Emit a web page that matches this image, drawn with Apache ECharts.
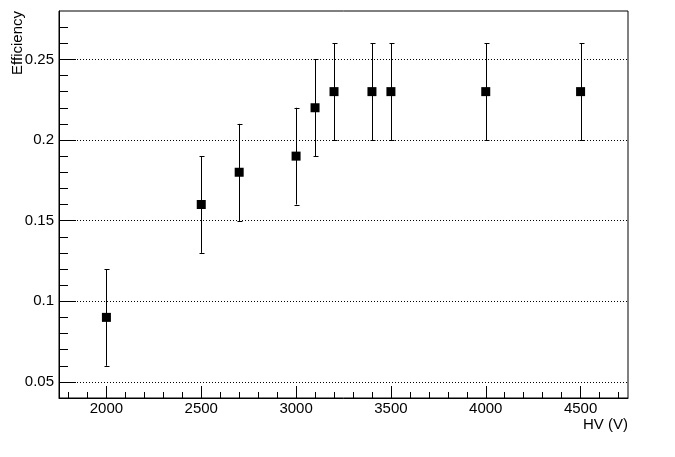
<!DOCTYPE html>
<html>
<head>
<meta charset="utf-8">
<script src="https://cdn.jsdelivr.net/npm/echarts@6/dist/echarts.min.js"></script>
<style>
  html, body { margin: 0; padding: 0; background: #fff; }
  #main { width: 675px; height: 457px; }
</style>
</head>
<body>
<div id="main"></div>
<script>
// HV scan data
var hv = [2000, 2500, 2700, 3000, 3100, 3200, 3400, 3500, 4000, 4500];
var efficiency = [0.09, 0.16, 0.18, 0.19, 0.22, 0.23, 0.23, 0.23, 0.23, 0.23];
var effError = [0.03, 0.03, 0.03, 0.03, 0.03, 0.03, 0.03, 0.03, 0.03, 0.03];

// axis ticks
var xMajor = [2000, 2500, 3000, 3500, 4000, 4500];
var xMinor = [1800, 1900, 2100, 2200, 2300, 2400, 2600, 2700, 2800, 2900,
              3100, 3200, 3300, 3400, 3600, 3700, 3800, 3900,
              4100, 4200, 4300, 4400, 4600, 4700];
var yMajor = [0.05, 0.1, 0.15, 0.2, 0.25];
var yMinor = [0.06, 0.07, 0.08, 0.09, 0.11, 0.12, 0.13, 0.14,
              0.16, 0.17, 0.18, 0.19, 0.21, 0.22, 0.23, 0.24, 0.26, 0.27];

var font = 'Liberation Sans, Arial, Helvetica, sans-serif';

var points = hv.map(function (x, i) { return [x, efficiency[i]]; });
var bars = hv.map(function (x, i) {
    return [x, efficiency[i] - effError[i], efficiency[i] + effError[i]];
});

// vertical error bar with small caps
function renderErr(params, api) {
    var x = api.value(0);
    var lo = api.coord([x, api.value(1)]);
    var hi = api.coord([x, api.value(2)]);
    var px = Math.round(lo[0]) + 0.5;
    var st = { stroke: '#000', lineWidth: 1 };
    return {
        type: 'group',
        children: [
            { type: 'line', shape: { x1: px, y1: lo[1], x2: px, y2: hi[1] }, style: st },
            { type: 'line', shape: { x1: px - 2, y1: Math.round(lo[1]) + 0.5, x2: px + 3, y2: Math.round(lo[1]) + 0.5 }, style: st },
            { type: 'line', shape: { x1: px - 2, y1: Math.round(hi[1]) + 0.5, x2: px + 3, y2: Math.round(hi[1]) + 0.5 }, style: st }
        ]
    };
}

var myChart = echarts.init(document.getElementById('main'));
var option = {
    animation: false,
    backgroundColor: '#fff',
    grid: {
        left: 59, right: 47, top: 11, bottom: 59,
        show: true, borderColor: '#000', borderWidth: 1,
        containLabel: false
    },
    xAxis: [{
        type: 'value', min: 1750, max: 4750, position: 'bottom',
        axisLine: { lineStyle: { color: '#000', width: 1 } },
        axisTick: { show: true, inside: true, length: 12, customValues: xMajor, lineStyle: { color: '#000' } },
        axisLabel: {
            customValues: xMajor, color: '#000', fontFamily: font, fontSize: 15, margin: 3,
            formatter: function (v) { return String(v); }
        },
        splitLine: { show: false }
    }, {
        type: 'value', min: 1750, max: 4750, position: 'bottom',
        axisLine: { show: false },
        axisTick: { show: true, inside: true, length: 6, customValues: xMinor, lineStyle: { color: '#000' } },
        axisLabel: { show: false },
        splitLine: { show: false }
    }],
    yAxis: [{
        type: 'value', min: 0.04, max: 0.28, position: 'left',
        axisLine: { show: true, lineStyle: { color: '#000', width: 1 } },
        axisTick: { show: true, inside: true, length: 17, customValues: yMajor, lineStyle: { color: '#000' } },
        axisLabel: {
            customValues: yMajor, color: '#000', fontFamily: font, fontSize: 15, margin: 5,
            formatter: function (v) { return String(v); }
        },
        splitLine: { show: true, lineStyle: { color: '#000', width: 1, type: [1, 2] } }
    }, {
        type: 'value', min: 0.04, max: 0.28, position: 'left',
        axisLine: { show: false },
        axisTick: { show: true, inside: true, length: 9, customValues: yMinor, lineStyle: { color: '#000' } },
        axisLabel: { show: false },
        splitLine: { show: false }
    }],
    graphic: [{
        type: 'text', left: 583, top: 417,
        style: { text: 'HV (V)', fill: '#000', font: '15px ' + font }
    }, {
        type: 'text', x: 10, y: 11, rotation: Math.PI / 2,
        style: { text: 'Efficiency', fill: '#000', font: '15px ' + font, align: 'right', verticalAlign: 'top' }
    }],
    series: [{
        name: 'err', type: 'custom', xAxisIndex: 0, yAxisIndex: 0,
        renderItem: renderErr, data: bars, encode: { x: 0, y: [1, 2] }, z: 2
    }, {
        name: 'eff', type: 'scatter', xAxisIndex: 0, yAxisIndex: 0,
        symbol: 'rect', symbolSize: 9, data: points,
        itemStyle: { color: '#000', opacity: 1 }, z: 3
    }]
};
myChart.setOption(option);
</script>
</body>
</html>
